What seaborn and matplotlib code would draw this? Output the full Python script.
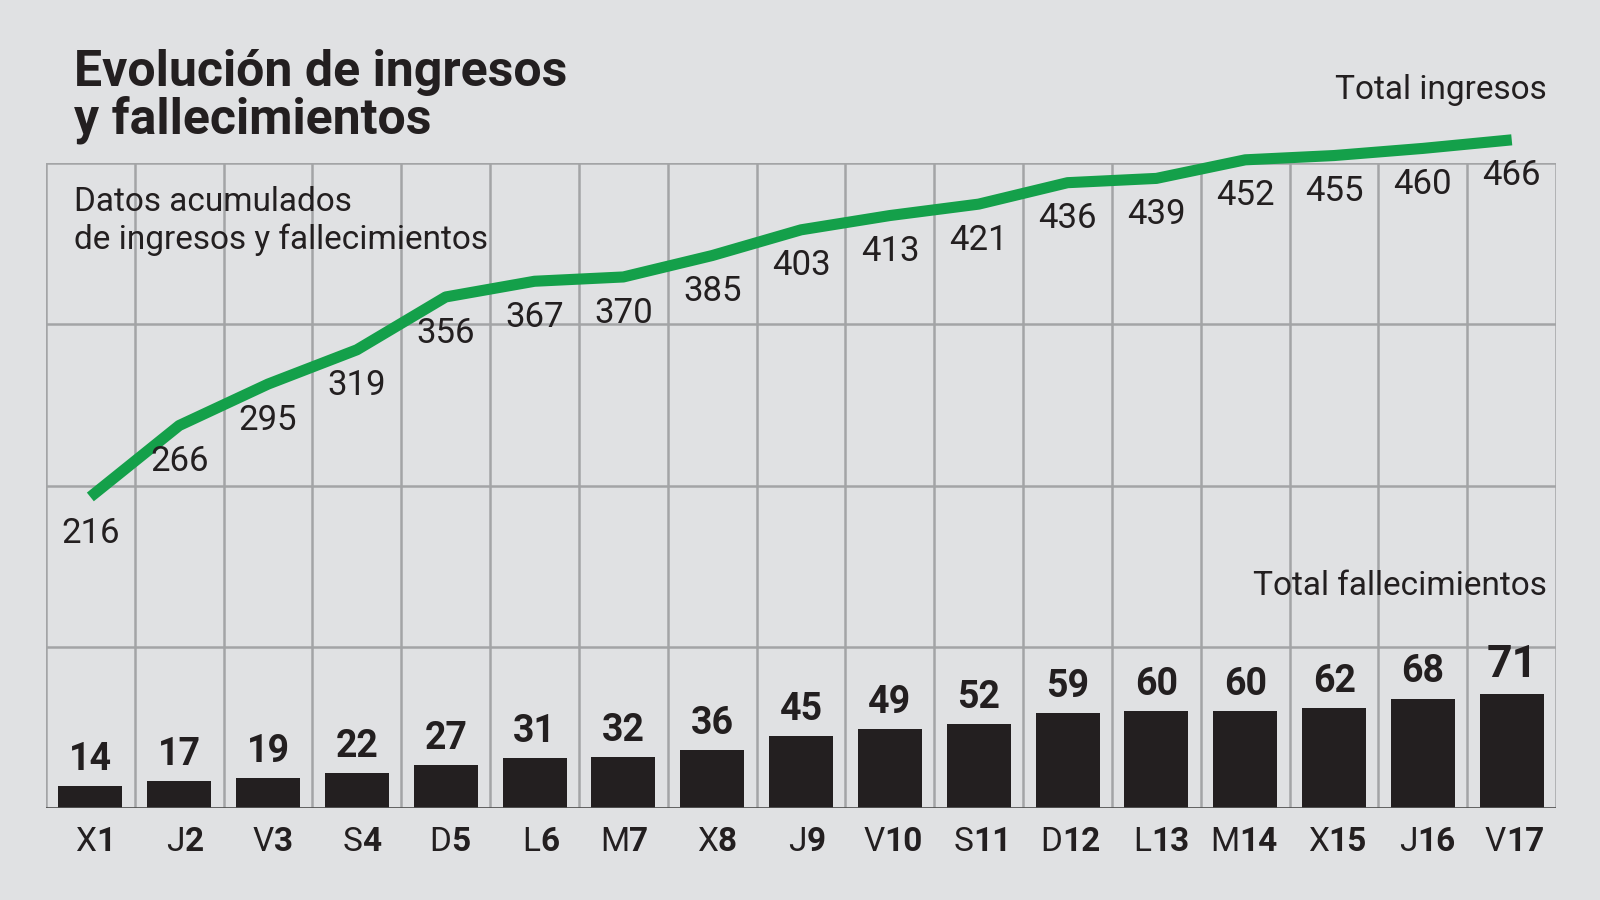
import matplotlib
matplotlib.use("Agg")
import matplotlib.pyplot as plt
import seaborn as sns
import pandas as pd

plt.rcParams["font.family"] = "Roboto"

dias = ["X", "J", "V", "S", "D", "L", "M", "X", "J", "V", "S", "D", "L", "M", "X", "J", "V"]
nums = [str(i) for i in range(1, 18)]
ingresos = [216, 266, 295, 319, 356, 367, 370, 385, 403, 413, 421, 436, 439, 452, 455, 460, 466]
fallecidos = [14, 17, 19, 22, 27, 31, 32, 36, 45, 49, 52, 59, 60, 60, 62, 68, 71]

bg = "#e0e1e3"
green = "#14a04a"
dark = "#231f20"
grid = "#a3a4a6"

data = pd.DataFrame({"x": range(len(ingresos)), "ingresos": ingresos, "fallecidos": fallecidos})

fig = plt.figure(figsize=(16, 9), dpi=100, facecolor=bg)
ax = fig.add_axes([0.0287, 0.102, 0.9439, 0.7166])
ax.set_facecolor(bg)

sns.barplot(data=data, x="x", y="fallecidos", color=dark, width=0.72, saturation=1, ax=ax, zorder=3)
ax.set_xlim(-0.5, len(ingresos) - 0.5)
ax.set_ylim(0, 400)

# grid
for k in range(len(ingresos) + 1):
    ax.axvline(k - 0.5, color=grid, lw=1.8, zorder=1)
for yv in [100, 200, 300, 400]:
    ax.axhline(yv, color=grid, lw=1.8, zorder=1)
ax.axhline(0, color="#555555", lw=2, zorder=4)
for s in ax.spines.values():
    s.set_visible(False)
ax.set_xticks([]); ax.set_yticks([])
ax.set_xlabel(""); ax.set_ylabel("")

for i, v in enumerate(fallecidos):
    last = i == len(fallecidos) - 1
    ax.text(i, v + 5, str(v), ha="center", va="bottom", fontsize=32 if last else 27,
            fontweight="bold", color=dark, zorder=5)

# line on twin axis
ax2 = ax.twinx()
ax2.set_ylim(-1.9, 449.6)
sns.lineplot(data=data, x="x", y="ingresos", color=green, lw=8, ax=ax2, clip_on=False,
             solid_capstyle="butt", zorder=6)
ax2.set_xlim(-0.5, len(ingresos) - 0.5)
ax2.axis("off")
for i, v in enumerate(ingresos):
    ax2.annotate(str(v), (i, v), xytext=(0, -26), textcoords="offset points",
                 ha="center", va="center", fontsize=25, color=dark, zorder=7,
                 annotation_clip=False)

# x tick labels: letter normal, number bold
for i, (d, n) in enumerate(zip(dias, nums)):
    dx = 4 if len(n) == 1 else -4
    ax.annotate(d, (i, 0), xytext=(dx, -24), textcoords="offset points",
                ha="right", va="center", fontsize=24, color=dark, annotation_clip=False)
    ax.annotate(n, (i, 0), xytext=(dx, -24), textcoords="offset points",
                ha="left", va="center", fontsize=24, fontweight="bold", color=dark, annotation_clip=False)

fig.text(0.046, 0.84, "Evolución de ingresos\ny fallecimientos", fontsize=36, fontweight="bold",
         color=dark, va="bottom", ha="left", linespacing=1.0)
fig.text(0.046, 0.715, "Datos acumulados\nde ingresos y fallecimientos", fontsize=24,
         color=dark, va="bottom", ha="left", linespacing=1.25)
fig.text(0.967, 0.9, "Total ingresos", fontsize=24, color=dark, ha="right", va="center")
fig.text(0.967, 0.349, "Total fallecimientos", fontsize=24, color=dark, ha="right", va="center")

fig.savefig("out.png", dpi=100, facecolor=bg)
